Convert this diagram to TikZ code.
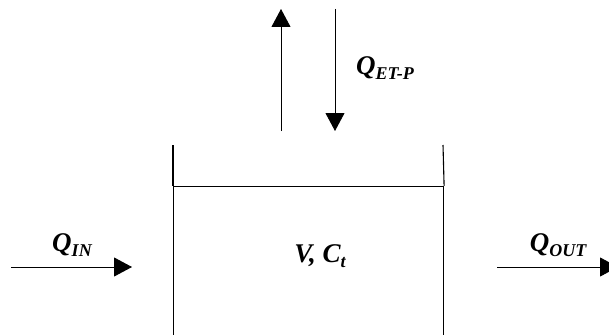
\documentclass[tikz,border=0pt]{standalone}
\usepackage{fontspec}
\setmainfont{Liberation Serif}
\usetikzlibrary{arrows.meta}
\tikzset{
  flow/.style={line width=0.9pt,-{Triangle[length=18pt,width=19pt]}},
  wall/.style={line width=1.1pt},
  lbl/.style={font=\fontsize{27}{29}\selectfont\bfseries\itshape,inner sep=0pt}
}
\newcommand{\lowsub}[1]{\raisebox{-0.35ex}{\fontsize{18}{20}\selectfont #1}}
\begin{document}
\begin{tikzpicture}[x=1pt,y=-1pt]
\useasboundingbox (0,0) rectangle (609,334);
\clip (0,0) rectangle (609,334);
% tank
\node[wall,draw,rectangle,minimum width=270pt,minimum height=160pt,anchor=north west,inner sep=0pt] (tank) at (173,186) {};
\coordinate (lwtop) at (173,145);
\coordinate (rwtop) at (443,145);
\draw[wall] (lwtop) -- (tank.north west);
\draw[wall] (rwtop) -- (tank.north east);
\node[lbl] (vc) at (320,256) {V, C\lowsub{t}};
% top arrows
\coordinate (upA) at (281,131);
\coordinate (upB) at (281,9);
\coordinate (dnA) at (335,9);
\coordinate (dnB) at (335,131);
\draw[flow] (upA) -- (upB);
\draw[flow] (dnA) -- (dnB);
\node[lbl] (qet) at (385,68) {Q\lowsub{ET-P}};
% inflow
\coordinate (inA) at (11,267);
\coordinate (inB) at (132,267);
\draw[flow] (inA) -- (inB);
\node[lbl] (qin) at (72,245) {Q\lowsub{IN}};
% outflow
\coordinate (outA) at (497,267);
\coordinate (outB) at (618,267);
\draw[flow] (outA) -- (outB);
\node[lbl] (qout) at (558,245) {Q\lowsub{OUT}};
\end{tikzpicture}
\end{document}
